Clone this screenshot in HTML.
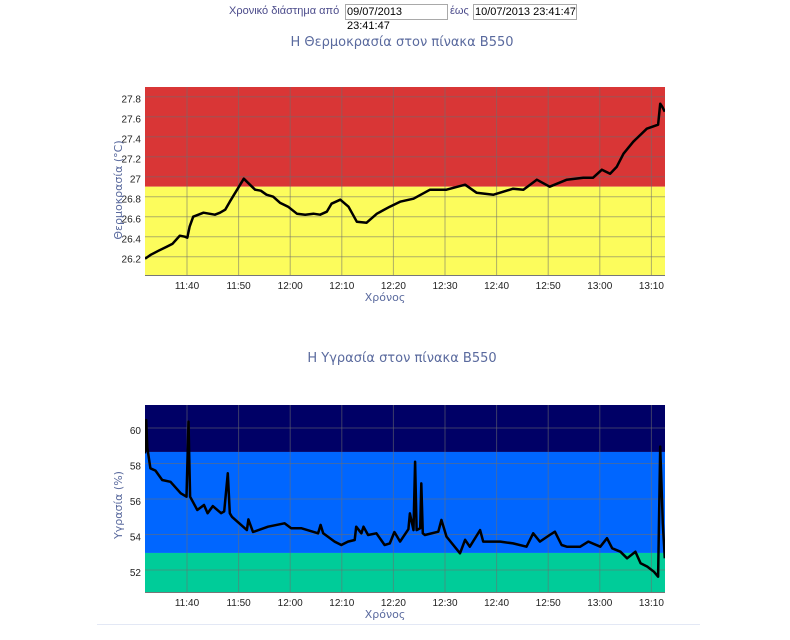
<!DOCTYPE html>
<html><head><meta charset="utf-8">
<style>
body{margin:0;background:#fff;width:790px;height:640px;overflow:hidden;font-family:"Liberation Sans","DejaVu Sans",sans-serif;}
#top{position:absolute;left:0;top:0;width:790px;height:24px;}
.lbl{position:absolute;top:5px;font-size:11px;color:#4a4a8a;}
.inp{position:absolute;top:4px;height:14px;border:1px solid #a9a9a9;font-size:11px;line-height:14px;color:#000;padding-left:1px;box-sizing:content-box;}
svg{position:absolute;left:0;top:0;}
</style></head><body>
<div id="top">
<span class="lbl" style="left:229px">Χρονικό διάστημα από</span>
<div class="inp" style="left:345px;width:100px">09/07/2013 23:41:47</div>
<span class="lbl" style="left:450px">έως</span>
<div class="inp" style="left:473px;width:101px">10/07/2013 23:41:47</div>
</div>
<svg id="svg" width="790" height="640" xmlns="http://www.w3.org/2000/svg"></svg>
<script>
// minutes since 11:30
const tempTimes=[1.86,3,4.5,6.06,7.2,8.6,9.6,10.06,10.5,11.2,12.2,13.2,14.3,15.4,16.4,17.4,18.3,21.0,22.0,23.2,24.3,25.4,26.7,28,29.6,31.3,32.9,34.5,35.8,37.1,38,39.7,41.3,42.9,44.8,46.8,49.3,51.3,53.9,57.1,60.3,63.9,66.1,69.4,73.2,75.2,77.8,80.3,83.6,86.8,88.7,90.4,92,93.3,94.6,96.5,99.1,101.3,101.7,102.1,102.6];
const tempValues=[26.18,26.22,26.26,26.30,26.33,26.41,26.40,26.39,26.50,26.60,26.62,26.64,26.63,26.62,26.64,26.67,26.75,26.98,26.93,26.87,26.86,26.82,26.80,26.74,26.70,26.63,26.62,26.63,26.62,26.65,26.73,26.77,26.70,26.55,26.54,26.63,26.70,26.75,26.78,26.87,26.87,26.92,26.84,26.82,26.88,26.87,26.97,26.90,26.97,26.99,26.99,27.07,27.03,27.10,27.23,27.35,27.48,27.52,27.73,27.70,27.65];
const humTimes=[1.86,2.1,2.3,2.9,3.9,5.2,6.8,8.8,9.9,10.3,10.6,12,13.3,14,15,16.6,17.2,17.9,18.3,18.7,21.6,21.9,22.8,25.7,28.9,30.2,32.2,35.4,35.9,36.4,38.6,39.9,41.2,42.5,42.8,43.8,44.2,45.1,46.7,48.3,49.3,50.2,51.3,52.9,53.2,53.9,54.2,54.5,55.2,55.4,55.7,56.1,58.7,59.3,60.3,62.9,63.9,64.8,66.8,67.4,70.7,73.2,75.8,77.1,78.4,80.3,81.3,82.6,83.6,86.2,87.8,90.1,91.4,92.4,94,95.3,96.9,97.9,99.2,100.5,101.3,101.7,102.2,102.6];
const humValues=[58.57,60.45,58.9,57.73,57.6,57.07,56.97,56.32,56.13,60.36,56.13,55.38,55.66,55.2,55.6,55.2,55.3,57.45,55.2,55.0,54.25,54.85,54.14,54.44,54.63,54.35,54.35,54.07,54.54,54.07,53.6,53.41,53.6,53.69,54.44,54.07,54.44,53.97,54.07,53.41,53.5,54.14,53.6,54.3,55.19,54.25,58.1,54.25,54.35,56.88,54.07,53.97,54.16,54.82,53.88,52.94,53.7,53.31,54.25,53.6,53.6,53.5,53.31,54.07,53.6,53.97,54.16,53.41,53.31,53.31,53.6,53.31,53.79,53.22,53.03,52.66,53.03,52.38,52.19,51.9,51.62,58.95,54.63,52.66];
const xTickMinutes=[10,20,30,40,50,60,70,80,90,100];
const xTickLabels=["11:40","11:50","12:00","12:10","12:20","12:30","12:40","12:50","13:00","13:10"];
const tempTicks=[26.2,26.4,26.6,26.8,27,27.2,27.4,27.6,27.8];
const tempTickLabels=["26.2","26.4","26.6","26.8","27","27.2","27.4","27.6","27.8"];
const humTicks=[52,54,56,58,60];
const humTickLabels=["52","54","56","58","60"];
const tempBands=[[26.9,28.5,"#d93636"],[25,26.9,"#fcfc5c"]];
const humBands=[[58.65,62,"#000066"],[52.96,58.65,"#0066ff"],[50,52.96,"#00cc99"]];

const NS="http://www.w3.org/2000/svg";
const svg=document.getElementById('svg');
function mk(tag,attrs,parent){const e=document.createElementNS(NS,tag);for(const k in attrs)e.setAttribute(k,attrs[k]);(parent||svg).appendChild(e);return e;}
const X0=145,X1=665;
const xs=m=>135.4+5.16*m;

function chart(cfg){
  const g=mk('g',{});
  
  
  const ys=cfg.ys;
  const t=mk('text',{x:402,y:cfg.titleY,'text-anchor':'middle','font-size':'13',fill:'#5a6a9e','font-family':'"DejaVu Sans",sans-serif'},g);
  t.textContent=cfg.title;
  
  
  const clip=mk('clipPath',{id:cfg.name+'-clip'},g);
  mk('rect',{x:X0,y:cfg.top,width:X1-X0,height:cfg.bot-cfg.top},clip);
  const pg=mk('g',{'clip-path':'url(#'+cfg.name+'-clip)'},g);
  cfg.bands.forEach(b=>{
    const r=mk('rect',{x:X0,y:ys(b[1]),width:X1-X0,height:ys(b[0])-ys(b[1]),fill:b[2]},pg);
    
    
  });
  xTickMinutes.forEach((m,i)=>{
    const l=mk('line',{x1:xs(m),x2:xs(m),y1:cfg.top,y2:cfg.bot,stroke:'rgba(110,110,110,0.55)','stroke-width':1},pg);
    
    
    const tx=mk('text',{x:xs(m),y:cfg.bot+14,'text-anchor':'middle','font-size':'10',fill:'#222'},g);
    tx.textContent=xTickLabels[i];
    
    
  });
  cfg.ticks.forEach((v,i)=>{
    const l=mk('line',{x1:X0,x2:X1,y1:ys(v),y2:ys(v),stroke:'rgba(110,110,110,0.55)','stroke-width':1},pg);
    
    
    const tx=mk('text',{x:141,y:ys(v)+6,'text-anchor':'end','font-size':'10',fill:'#222'},g);
    tx.textContent=cfg.tickLabels[i];
    
    
  });
  let d='';
  cfg.times.forEach((m,i)=>{d+=(i?'L':'M')+xs(m).toFixed(1)+' '+ys(cfg.values[i]).toFixed(1);});
  const p=mk('path',{d:d,fill:'none',stroke:'#000','stroke-width':2.5,'stroke-linejoin':'round'},pg);
  
  
  const ax=mk('line',{x1:X0,x2:X1,y1:cfg.bot+0.5,y2:cfg.bot+0.5,stroke:'#777','stroke-width':1},g);
  
  
  const xt=mk('text',{x:385,y:cfg.bot+26,'text-anchor':'middle','font-size':'11',fill:'#5a6a9e','font-family':'"DejaVu Sans",sans-serif'},g);
  xt.textContent='Χρόνος';
  
  
  const yt=mk('text',{x:0,y:0,'text-anchor':'middle','font-size':'11',fill:'#5a6a9e','font-family':'"DejaVu Sans",sans-serif',transform:'translate(122,'+cfg.yTitleY+') rotate(-90)'},g);
  yt.textContent=cfg.yTitle;
  
  
}
chart({name:'temperature-chart',title:'Η Θερμοκρασία στον πίνακα B550',titleY:46,top:87,bot:275,
  ys:v=>176.7-(v-27)*100,bands:tempBands,ticks:tempTicks,tickLabels:tempTickLabels,
  times:tempTimes,values:tempValues,yTitle:'Θερμοκρασία (°C)',yTitleY:190});
chart({name:'humidity-chart',title:'Η Υγρασία στον πίνακα B550',titleY:362,top:405,bot:592,
  ys:v=>428-(v-60)*17.75,bands:humBands,ticks:humTicks,tickLabels:humTickLabels,
  times:humTimes,values:humValues,yTitle:'Υγρασία (%)',yTitleY:505});
const bl=mk('line',{x1:97,x2:700,y1:624.5,y2:624.5,stroke:'#e3e8f5','stroke-width':1});


</script>
</body></html>
